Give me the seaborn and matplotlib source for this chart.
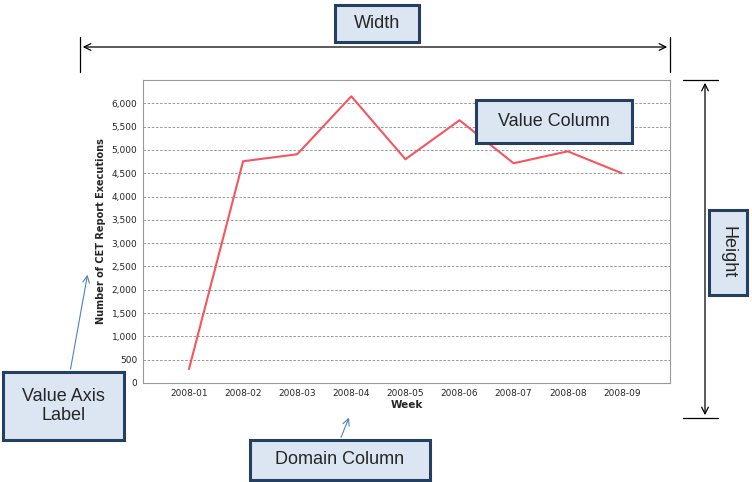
import matplotlib
matplotlib.use("Agg")
import matplotlib.pyplot as plt
import seaborn as sns
import pandas as pd
from matplotlib.patches import Rectangle

weeks = ["2008-01","2008-02","2008-03","2008-04","2008-05","2008-06","2008-07","2008-08","2008-09"]
executions = [300, 4757, 4907, 6150, 4800, 5636, 4714, 4970, 4500]
yticks = list(range(0, 6001, 500))

sns.set_theme(style="white")
plt.rcParams['font.family'] = ['DejaVu Sans']
W, H = 752, 482
fig = plt.figure(figsize=(W/100, H/100), dpi=100)
ax = fig.add_axes([143/W, 1-383/H, (670-143)/W, (383-80)/H])
df = pd.DataFrame({"Week": weeks, "Executions": executions})
df["i"] = range(len(weeks))
sns.lineplot(data=df, x="i", y="Executions", ax=ax, color="#f4555e", lw=1.5)
ax.set_xlim(-0.85, 8.89)
ax.set_ylim(0, 6500)
ax.set_xticks(range(len(weeks)))
ax.set_xticklabels(weeks, fontsize=6.5)
ax.set_yticks(yticks)
ax.set_yticklabels([f"{v:,}" for v in yticks], fontsize=6.5)
ax.yaxis.grid(True, ls=(0, (3, 2)), color="#888888", lw=0.6)
ax.set_xlabel("Week", fontsize=7.5, fontweight="bold", labelpad=2)
ax.set_ylabel("Number of CET Report Executions", fontsize=7, fontweight="bold", labelpad=4)
ax.tick_params(length=0, pad=4)
for s in ax.spines.values():
    s.set_color("#999999"); s.set_linewidth(0.8)

def fx(x): return x / W
def fy(y): return 1 - y / H

def box(x0, y0, x1, y1, text, rot=0):
    fig.patches.append(Rectangle((fx(x0), fy(y1)), fx(x1-x0), (y1-y0)/H,
                                 transform=fig.transFigure, facecolor="#dce6f2",
                                 edgecolor="#243f60", lw=2.2, zorder=5))
    fig.text(fx((x0+x1)/2), fy((y0+y1)/2), text, ha="center", va="center",
             fontsize=13, rotation=rot, zorder=6, family="Liberation Sans")

def arrow(p0, p1, style="<->", color="black", lw=0.9):
    fig.add_artist(matplotlib.patches.FancyArrowPatch(
        (fx(p0[0]), fy(p0[1])), (fx(p1[0]), fy(p1[1])), transform=fig.transFigure,
        arrowstyle=style, mutation_scale=12, color=color, lw=lw))

def line(p0, p1):
    fig.add_artist(matplotlib.lines.Line2D([fx(p0[0]), fx(p1[0])], [fy(p0[1]), fy(p1[1])],
                                            transform=fig.transFigure, color="black", lw=0.9))

# Width
line((80, 37), (80, 72)); line((670, 37), (670, 72))
arrow((80, 47), (670, 47))
box(335, 5, 419, 42, "Width")
# Height
line((683, 80), (718, 80)); line((683, 418), (718, 418))
arrow((705, 80), (705, 418))
box(709, 210, 747, 295, "Height", rot=-90)
# Value column
box(476, 100, 632, 143, "Value Column")
# Value axis label
arrow((70, 372), (88, 272), style="->", color="#4f81bd", lw=0.8)
box(3, 372, 124, 440, "Value Axis\nLabel")
# Domain column
arrow((340, 440), (350, 415), style="->", color="#4f81bd", lw=0.8)
box(250, 440, 430, 480, "Domain Column")

fig.savefig("out.png", dpi=100)
